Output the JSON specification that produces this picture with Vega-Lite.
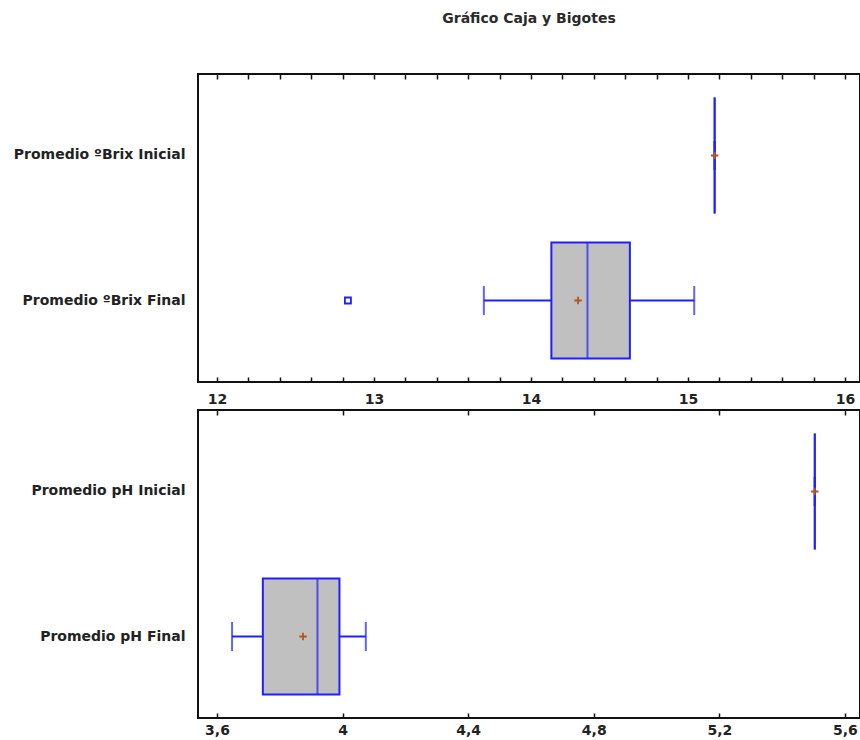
{
  "$schema": "https://vega.github.io/schema/vega-lite/v6.json",
  "padding": {"top": 11, "left": 12, "right": 0, "bottom": 0},
  "background": "white",
  "config": {
    "view": {"stroke": "#111111", "strokeWidth": 2},
    "font": "DejaVu Sans"
  },
  "datasets": {
    "stats": [
      {"panel": "brix", "cat": "Promedio ºBrix Inicial", "lo": 15.17, "q1": 15.17, "med": 15.17, "q3": 15.17, "hi": 15.17, "mean": 15.17},
      {"panel": "brix", "cat": "Promedio ºBrix Final", "lo": 13.70, "q1": 14.13, "med": 14.36, "q3": 14.63, "hi": 15.04, "mean": 14.30},
      {"panel": "ph", "cat": "Promedio pH Inicial", "lo": 5.504, "q1": 5.504, "med": 5.504, "q3": 5.504, "hi": 5.504, "mean": 5.504},
      {"panel": "ph", "cat": "Promedio pH Final", "lo": 3.648, "q1": 3.746, "med": 3.92, "q3": 3.99, "hi": 4.074, "mean": 3.874}
    ],
    "outliers": [
      {"panel": "brix", "cat": "Promedio ºBrix Final", "value": 12.834}
    ]
  },
  "bounds": "flush",
  "spacing": 28,
  "vconcat": [
    {
      "width": 662,
      "height": 308,
      "title": {"text": "Gráfico Caja y Bigotes", "frame": "group", "anchor": "middle", "offset": 47, "fontSize": 14, "fontWeight": "bold", "font": "DejaVu Sans", "color": "#2a2a2a"},
      "resolve": {"axis": {"x": "independent"}},
      "encoding": {
        "y": {"field": "cat", "type": "nominal", "sort": ["Promedio ºBrix Inicial", "Promedio ºBrix Final"],
          "scale": {"paddingInner": 0.2, "paddingOuter": 0.162},
          "axis": {"title": null, "ticks": false, "domain": false, "labelFontSize": 14, "labelFontWeight": "bold", "labelFont": "DejaVu Sans", "labelColor": "#222222", "labelPadding": 13, "labelLimit": 300}}
      },
      "layer": [
        {
          "data": {"name": "stats"},
          "transform": [{"filter": "datum.panel == 'brix'"}],
          "mark": {"type": "bar", "fill": "#c0c0c0", "stroke": "#1f1fff", "strokeWidth": 2},
          "encoding": {
            "x": {"field": "q1", "type": "quantitative", "scale": {"domain": [11.879, 16.096], "nice": false, "zero": false},
              "axis": {"orient": "bottom", "title": null, "values": [12, 12.2, 12.4, 12.6, 12.8, 13, 13.2, 13.4, 13.6, 13.8, 14, 14.2, 14.4, 14.6, 14.8, 15, 15.2, 15.4, 15.6, 15.8, 16],
                "format": "~g", "labelExpr": "datum.value % 1 == 0 ? datum.label : ''", "labelOverlap": false, "labelFlush": false,
                "tickSize": -5, "tickColor": "#111111", "tickWidth": 1.5, "domain": false, "grid": false,
                "labelFontSize": 14, "labelFontWeight": "bold", "labelFont": "DejaVu Sans", "labelColor": "#222222", "labelPadding": 15}},
            "x2": {"field": "q3"}
          }
        },
        {
          "data": {"name": "stats"},
          "transform": [{"filter": "datum.panel == 'brix'"}],
          "mark": {"type": "rule", "stroke": "#1f1fff", "strokeWidth": 2},
          "encoding": {
            "x": {"field": "lo", "type": "quantitative", "scale": {"domain": [11.879, 16.096], "nice": false, "zero": false},
              "axis": {"orient": "top", "title": null, "values": [12, 12.2, 12.4, 12.6, 12.8, 13, 13.2, 13.4, 13.6, 13.8, 14, 14.2, 14.4, 14.6, 14.8, 15, 15.2, 15.4, 15.6, 15.8, 16],
                "labels": false, "tickSize": -5, "tickColor": "#111111", "tickWidth": 1.5, "domain": false, "grid": false}},
            "x2": {"field": "q1"}
          }
        },
        {
          "data": {"name": "stats"},
          "transform": [{"filter": "datum.panel == 'brix'"}],
          "mark": {"type": "rule", "stroke": "#1f1fff", "strokeWidth": 2},
          "encoding": {
            "x": {"field": "q3", "type": "quantitative", "scale": {"domain": [11.879, 16.096], "nice": false, "zero": false}, "axis": null},
            "x2": {"field": "hi"}
          }
        },
        {
          "data": {"name": "stats"},
          "transform": [{"filter": "datum.panel == 'brix'"}],
          "mark": {"type": "tick", "color": "#1f1fff", "size": 29, "thickness": 2},
          "encoding": {
            "x": {"field": "lo", "type": "quantitative", "scale": {"domain": [11.879, 16.096], "nice": false, "zero": false}, "axis": null}
          }
        },
        {
          "data": {"name": "stats"},
          "transform": [{"filter": "datum.panel == 'brix'"}],
          "mark": {"type": "tick", "color": "#1f1fff", "size": 29, "thickness": 2},
          "encoding": {
            "x": {"field": "hi", "type": "quantitative", "scale": {"domain": [11.879, 16.096], "nice": false, "zero": false}, "axis": null}
          }
        },
        {
          "data": {"name": "stats"},
          "transform": [{"filter": "datum.panel == 'brix'"}],
          "mark": {"type": "tick", "color": "#1f1fff", "size": 116, "thickness": 2},
          "encoding": {
            "x": {"field": "med", "type": "quantitative", "scale": {"domain": [11.879, 16.096], "nice": false, "zero": false}, "axis": null}
          }
        },
        {
          "data": {"name": "stats"},
          "transform": [{"filter": "datum.panel == 'brix'"}],
          "mark": {"type": "point", "shape": "M-1,0L1,0M0,-1L0,1", "filled": false, "stroke": "#b0551f", "strokeWidth": 1.8, "size": 55, "opacity": 1},
          "encoding": {
            "x": {"field": "mean", "type": "quantitative", "scale": {"domain": [11.879, 16.096], "nice": false, "zero": false}, "axis": null}
          }
        },
        {
          "data": {"name": "outliers"},
          "transform": [{"filter": "datum.panel == 'brix'"}],
          "mark": {"type": "point", "shape": "square", "filled": false, "stroke": "#1f1fff", "strokeWidth": 1.8, "size": 36, "opacity": 1},
          "encoding": {
            "x": {"field": "value", "type": "quantitative", "scale": {"domain": [11.879, 16.096], "nice": false, "zero": false}, "axis": null}
          }
        }
      ]
    },
    {
      "width": 662,
      "height": 308,
      "resolve": {"axis": {"x": "independent"}},
      "encoding": {
        "y": {"field": "cat", "type": "nominal", "sort": ["Promedio pH Inicial", "Promedio pH Final"],
          "scale": {"paddingInner": 0.2, "paddingOuter": 0.162},
          "axis": {"title": null, "ticks": false, "domain": false, "labelFontSize": 14, "labelFontWeight": "bold", "labelFont": "DejaVu Sans", "labelColor": "#222222", "labelPadding": 13, "labelLimit": 300}}
      },
      "layer": [
        {
          "data": {"name": "stats"},
          "transform": [{"filter": "datum.panel == 'ph'"}],
          "mark": {"type": "bar", "fill": "#c0c0c0", "stroke": "#1f1fff", "strokeWidth": 2},
          "encoding": {
            "x": {"field": "q1", "type": "quantitative", "scale": {"domain": [3.5395, 5.648], "nice": false, "zero": false},
              "axis": {"orient": "bottom", "title": null, "values": [3.6, 4, 4.4, 4.8, 5.2, 5.6],
                "format": "~g", "labelExpr": "replace(datum.label, '.', ',')", "labelOverlap": false, "labelFlush": false,
                "tickSize": -5, "tickColor": "#111111", "tickWidth": 1.5, "domain": false, "grid": false,
                "labelFontSize": 14, "labelFontWeight": "bold", "labelFont": "DejaVu Sans", "labelColor": "#222222", "labelPadding": 10}},
            "x2": {"field": "q3"}
          }
        },
        {
          "data": {"name": "stats"},
          "transform": [{"filter": "datum.panel == 'ph'"}],
          "mark": {"type": "rule", "stroke": "#1f1fff", "strokeWidth": 2},
          "encoding": {
            "x": {"field": "lo", "type": "quantitative", "scale": {"domain": [3.5395, 5.648], "nice": false, "zero": false},
              "axis": {"orient": "top", "title": null, "values": [3.6, 4, 4.4, 4.8, 5.2, 5.6],
                "labels": false, "tickSize": -5, "tickColor": "#111111", "tickWidth": 1.5, "domain": false, "grid": false}},
            "x2": {"field": "q1"}
          }
        },
        {
          "data": {"name": "stats"},
          "transform": [{"filter": "datum.panel == 'ph'"}],
          "mark": {"type": "rule", "stroke": "#1f1fff", "strokeWidth": 2},
          "encoding": {
            "x": {"field": "q3", "type": "quantitative", "scale": {"domain": [3.5395, 5.648], "nice": false, "zero": false}, "axis": null},
            "x2": {"field": "hi"}
          }
        },
        {
          "data": {"name": "stats"},
          "transform": [{"filter": "datum.panel == 'ph'"}],
          "mark": {"type": "tick", "color": "#1f1fff", "size": 29, "thickness": 2},
          "encoding": {
            "x": {"field": "lo", "type": "quantitative", "scale": {"domain": [3.5395, 5.648], "nice": false, "zero": false}, "axis": null}
          }
        },
        {
          "data": {"name": "stats"},
          "transform": [{"filter": "datum.panel == 'ph'"}],
          "mark": {"type": "tick", "color": "#1f1fff", "size": 29, "thickness": 2},
          "encoding": {
            "x": {"field": "hi", "type": "quantitative", "scale": {"domain": [3.5395, 5.648], "nice": false, "zero": false}, "axis": null}
          }
        },
        {
          "data": {"name": "stats"},
          "transform": [{"filter": "datum.panel == 'ph'"}],
          "mark": {"type": "tick", "color": "#1f1fff", "size": 116, "thickness": 2},
          "encoding": {
            "x": {"field": "med", "type": "quantitative", "scale": {"domain": [3.5395, 5.648], "nice": false, "zero": false}, "axis": null}
          }
        },
        {
          "data": {"name": "stats"},
          "transform": [{"filter": "datum.panel == 'ph'"}],
          "mark": {"type": "point", "shape": "M-1,0L1,0M0,-1L0,1", "filled": false, "stroke": "#b0551f", "strokeWidth": 1.8, "size": 55, "opacity": 1},
          "encoding": {
            "x": {"field": "mean", "type": "quantitative", "scale": {"domain": [3.5395, 5.648], "nice": false, "zero": false}, "axis": null}
          }
        }
      ]
    }
  ]
}
